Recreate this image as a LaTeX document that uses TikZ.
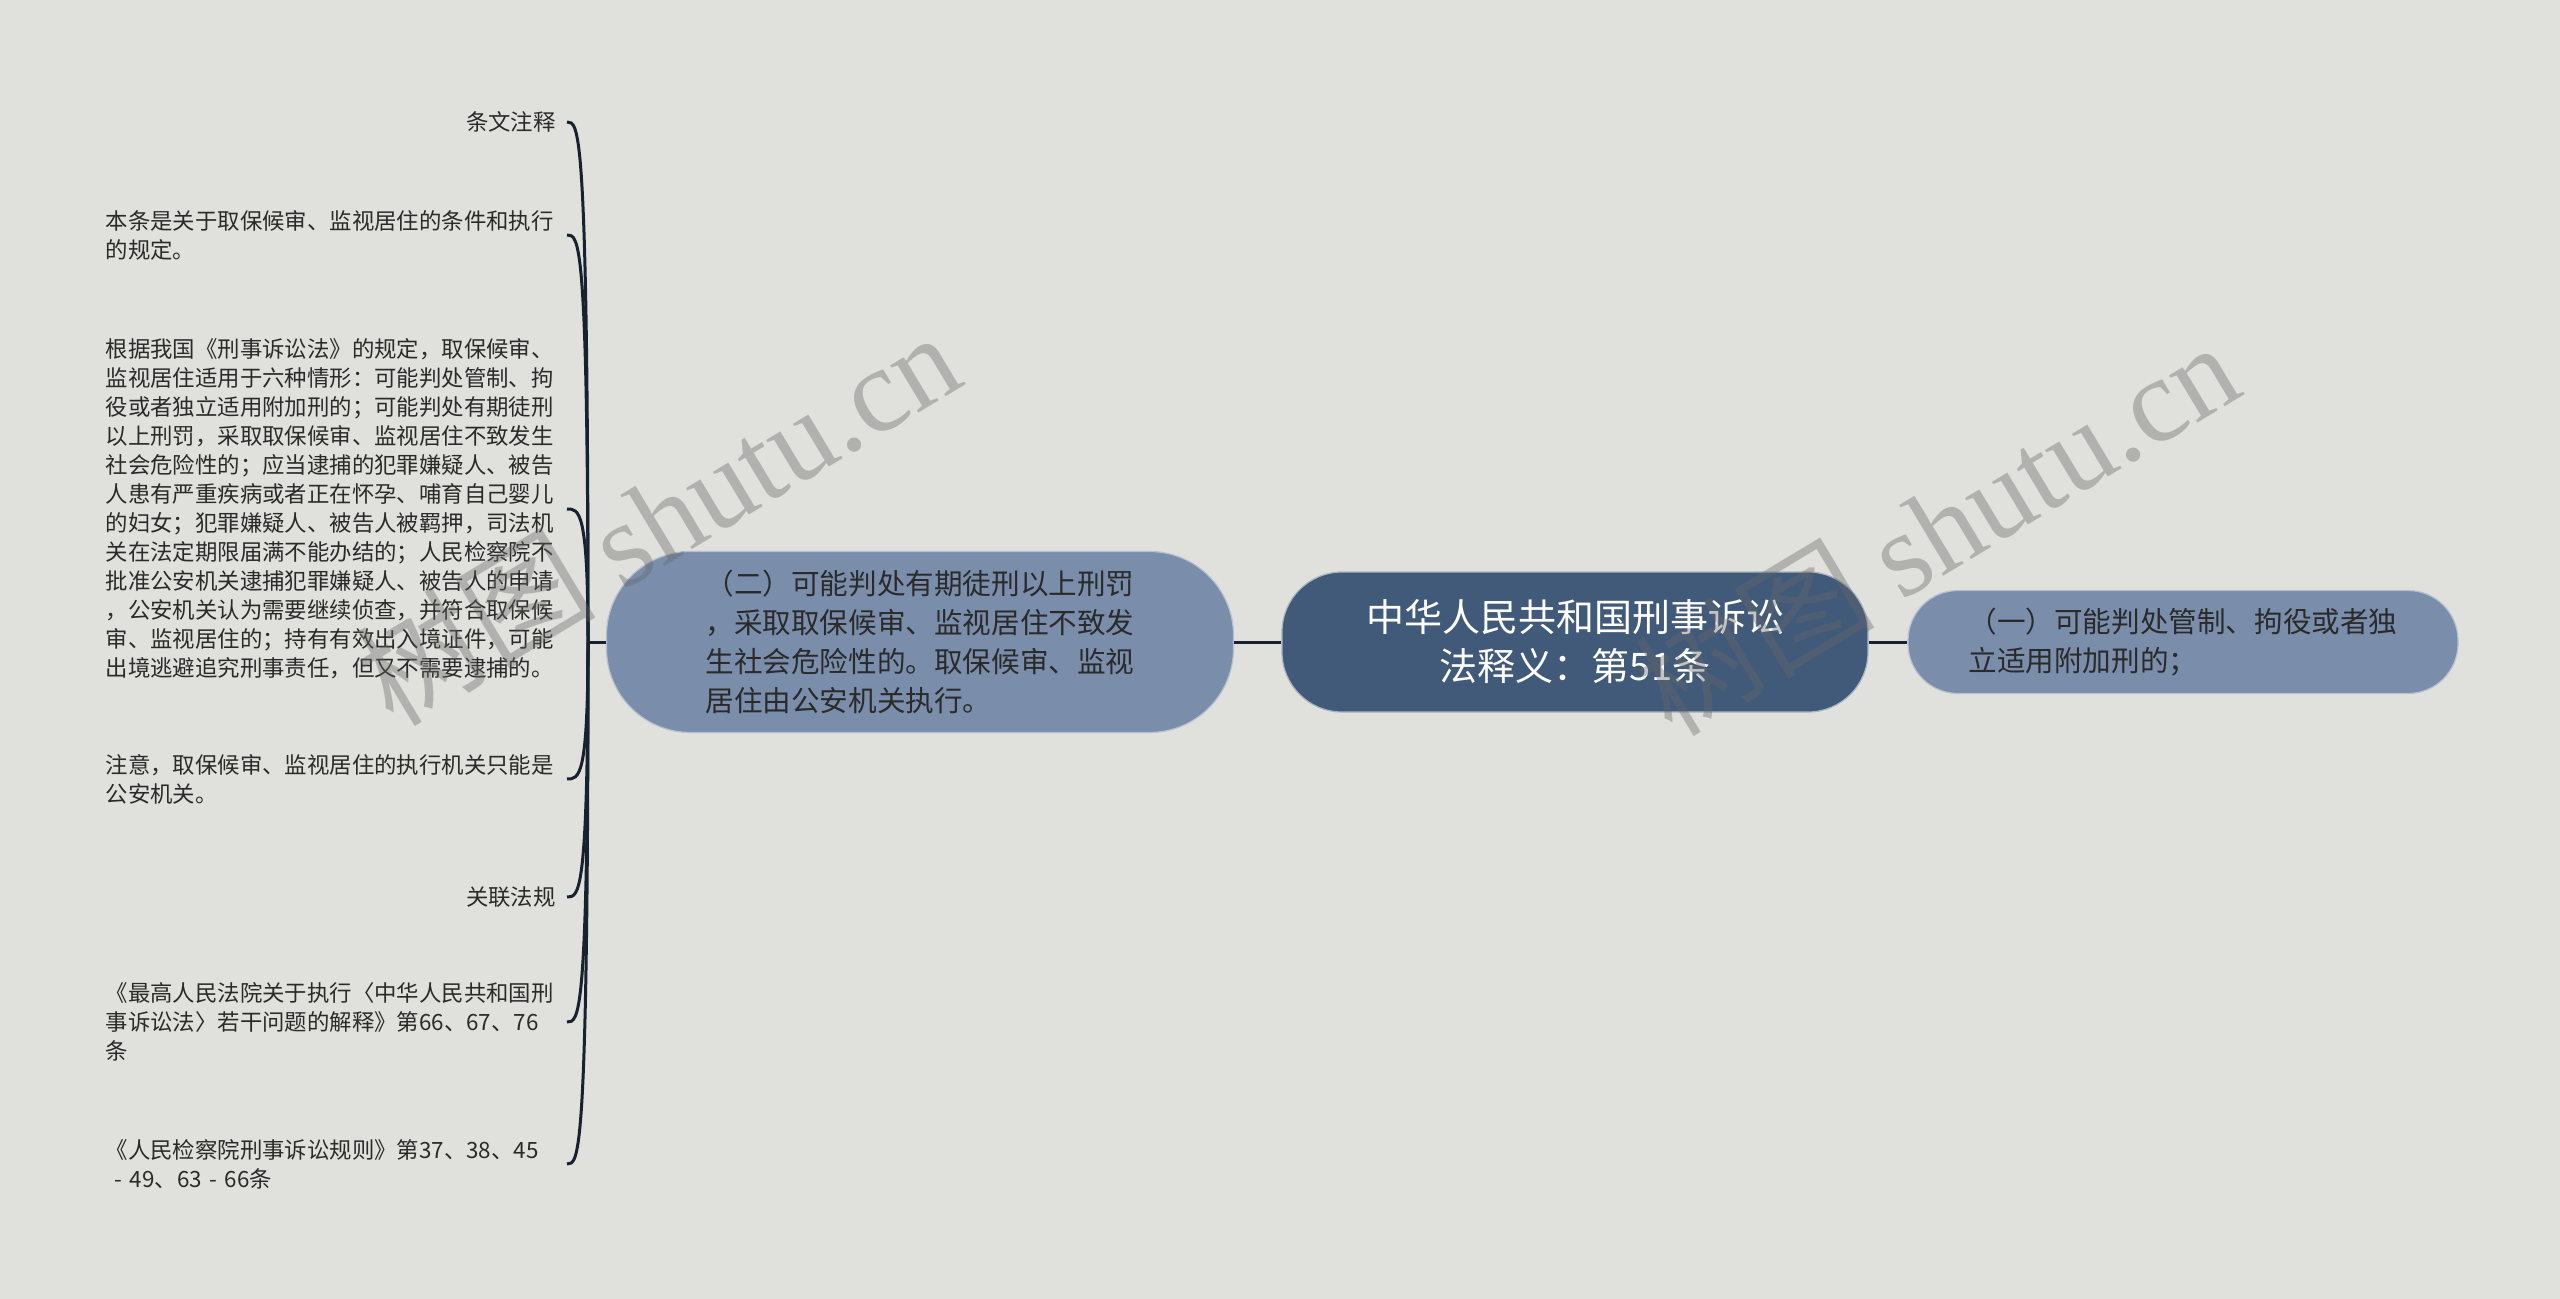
\documentclass[tikz,border=0pt]{standalone}
\usepackage{fontspec}
\setmainfont{Noto Sans CJK SC}
\newfontfamily\wmfont{Liberation Serif}
\definecolor{bgcol}{HTML}{E0E1DC}
\definecolor{rootcol}{HTML}{415A7A}
\definecolor{subcol}{HTML}{7A8DAB}
\definecolor{linecol}{HTML}{18212F}
\definecolor{txtcol}{HTML}{2A2A2A}
\tikzset{
  root/.style={fill=rootcol, draw=white!55!rootcol, line width=0.6pt, rounded corners=30pt,
    minimum width=293pt, minimum height=70pt, text=white, align=center,
    font=\fontsize{19pt}{24.5pt}\selectfont},
  sub/.style={fill=subcol, draw=white!45!subcol, line width=0.6pt, text=txtcol, align=left,
    font=\fontsize{14.3pt}{19.5pt}\selectfont},
  leaf/.style={anchor=east, inner xsep=5.5pt, inner ysep=2pt, text=txtcol,
    font=\fontsize{11.2pt}{14.5pt}\selectfont},
  note/.style={leaf, text width=225pt, align=left},
  link/.style={draw=linecol, line width=1.5pt},
  wm/.style={text=black!60, opacity=0.38, font=\fontsize{60pt}{60pt}\selectfont},
}
\begin{document}
\begin{tikzpicture}[x=0.5pt,y=-0.5pt]
\fill[bgcol] (0,0) rectangle (2560,1299);
\useasboundingbox (0,0) rectangle (2560,1299);
% main topic and the two branches
\node[root] (ctr) at (1575,642) {中华人民共和国刑事诉讼\\法释义：第51条};
\node[sub, minimum width=313.5pt, minimum height=90.5pt, rounded corners=42pt] (sub2) at (920,642)
  {（二）可能判处有期徒刑以上刑罚\\，采取取保候审、监视居住不致发\\生社会危险性的。取保候审、监视\\居住由公安机关执行。};
\node[sub, minimum width=275pt, minimum height=51.5pt, rounded corners=25pt] (sub1) at (2183,642)
  {（一）可能判处管制、拘役或者独\\立适用附加刑的；};
\draw[link] (ctr.west) -- (sub2.east);
\draw[link] (ctr.east) -- (sub1.west);
% notes on the left
\node[leaf] (lf1) at (567,122) {条文注释};
\node[note] (lf2) at (567,235) {本条是关于取保候审、监视居住的条件和执行\\的规定。};
\node[note] (lf3) at (567,509) {根据我国《刑事诉讼法》的规定，取保候审、\\监视居住适用于六种情形：可能判处管制、拘\\役或者独立适用附加刑的；可能判处有期徒刑\\以上刑罚，采取取保候审、监视居住不致发生\\社会危险性的；应当逮捕的犯罪嫌疑人、被告\\人患有严重疾病或者正在怀孕、哺育自己婴儿\\的妇女；犯罪嫌疑人、被告人被羁押，司法机\\关在法定期限届满不能办结的；人民检察院不\\批准公安机关逮捕犯罪嫌疑人、被告人的申请\\，公安机关认为需要继续侦查，并符合取保候\\审、监视居住的；持有有效出入境证件，可能\\出境逃避追究刑事责任，但又不需要逮捕的。};
\node[note] (lf4) at (567,779) {注意，取保候审、监视居住的执行机关只能是\\公安机关。};
\node[leaf] (lf5) at (567,897) {关联法规};
\node[note] (lf6) at (567,1022) {《最高人民法院关于执行〈中华人民共和国刑\\事诉讼法〉若干问题的解释》第66、67、76\\条};
\node[note] (lf7) at (567,1164) {《人民检察院刑事诉讼规则》第37、38、45\\\hspace*{0.4em}- 49、63 - 66条};
\coordinate (jn) at (588,642);
\draw[link] (sub2.west) -- (jn);
\foreach \n in {lf1,lf2,lf3,lf4,lf5,lf6,lf7}
  \draw[link] (jn) .. controls (jn |- \n.east) and ([xshift=6pt]\n.east) .. (\n.east);
% watermark
\node[wm, rotate=31] (wm1) at (657,517) {树图 {\wmfont shutu.cn}};
\node[wm, rotate=31] (wm2) at (1936,527) {树图 {\wmfont shutu.cn}};
\end{tikzpicture}
\end{document}
